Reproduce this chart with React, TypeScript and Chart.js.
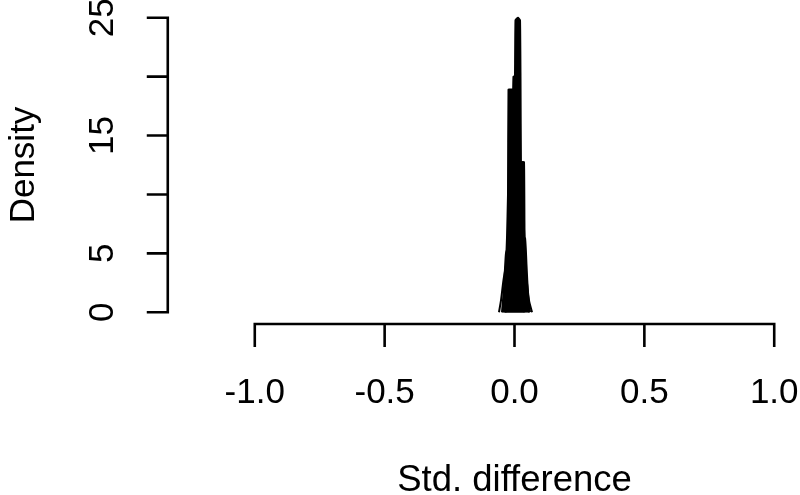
import React, { useEffect, useRef } from 'react';
import { Chart, registerables } from 'chart.js';

Chart.register(...registerables);

// Axis ticks
const xTicks = [-1.0, -0.5, 0.0, 0.5, 1.0];
const xTickLabels = ['-1.0', '-0.5', '0.0', '0.5', '1.0'];
const yTicks = [0, 5, 10, 15, 20, 25];
const yTickLabels = ['0', '5', '', '15', '', '25'];
const xTitle = 'Std. difference';
const yTitle = 'Density';

// Density curves (std. difference vs density)
const curveAx = [-0.0328, -0.0173, -0.0058, 0.0019, 0.0039, 0.0135, 0.0212, 0.0231, 0.025, 0.0366, 0.0559];
const curveAy = [0, 4, 10, 20, 24.8, 25, 24.8, 20, 12, 4, 0];

const curveBx = [-0.0366, -0.0212, -0.0096, -0.0058, -0.0039, 0.0019, 0.0058, 0.0173, 0.0405];
const curveBy = [0, 4, 12, 18, 20, 20, 14, 4, 0];

const curveCx = [-0.0443, -0.0347, -0.0289, -0.025, -0.0231, -0.0135, -0.0019, 0.0058, 0.0173, 0.0366];
const curveCy = [0, 3, 6.3, 10, 18.9, 18.9, 18.9, 10, 3, 0];

const curveDx = [-0.0366, -0.025, -0.0096, 0.0135, 0.027, 0.0366, 0.0385, 0.0443, 0.0559];
const curveDy = [0, 3, 8, 12.5, 12.75, 12.75, 7, 3, 0];

const curveEx = [-0.0482, -0.0405, -0.0328, -0.0096, 0.0212, 0.0405, 0.0462, 0.052, 0.0597];
const curveEy = [0, 2, 5, 6.3, 6.3, 6.3, 4, 1.5, 0];

// widest curve, its tails flare out at the base
const curveFx = [-0.0597, -0.052, -0.0405, -0.025, -0.0019, 0.0212, 0.0443, 0.0559, 0.0674];
const curveFy = [0, 1, 3, 4.5, 5, 4.5, 3, 1, 0];

const filledCurves = [
  [curveAx, curveAy],
  [curveBx, curveBy],
  [curveCx, curveCy],
  [curveDx, curveDy],
  [curveEx, curveEy],
];
const lineCurves = [[curveFx, curveFy]];

const FONT = '"Liberation Sans", Arial, Helvetica, sans-serif';
const TICK_FONT_SIZE = 35;
const TITLE_FONT_SIZE = 36.5;

const rAxesPlugin = {
  id: 'rAxes',
  afterDraw(chart: any) {
    const { ctx } = chart;
    const xs = chart.scales.x;
    const ys = chart.scales.y;
    ctx.save();
    ctx.strokeStyle = '#000';
    ctx.fillStyle = '#000';
    ctx.lineWidth = 2.6;
    ctx.lineCap = 'butt';

    // X axis (at bottom of plotting region)
    const axY = ys.getPixelForValue(-1);
    ctx.beginPath();
    ctx.moveTo(xs.getPixelForValue(xTicks[0]) - 1.3, axY);
    ctx.lineTo(xs.getPixelForValue(xTicks[xTicks.length - 1]) + 1.3, axY);
    xTicks.forEach((t) => {
      const px = xs.getPixelForValue(t);
      ctx.moveTo(px, axY);
      ctx.lineTo(px, axY + 23);
    });
    ctx.stroke();

    ctx.textAlign = 'center';
    ctx.textBaseline = 'alphabetic';
    ctx.font = `${TICK_FONT_SIZE}px ${FONT}`;
    xTicks.forEach((t, i) => {
      ctx.fillText(xTickLabels[i], xs.getPixelForValue(t), 403);
    });
    ctx.font = `${TITLE_FONT_SIZE}px ${FONT}`;
    ctx.fillText(xTitle, xs.getPixelForValue(0), 491);

    // Y axis (offset to the left)
    const axX = xs.getPixelForValue(-1.335);
    ctx.beginPath();
    ctx.moveTo(axX, ys.getPixelForValue(yTicks[0]) + 1.3);
    ctx.lineTo(axX, ys.getPixelForValue(yTicks[yTicks.length - 1]) - 1.3);
    yTicks.forEach((t) => {
      const py = ys.getPixelForValue(t);
      ctx.moveTo(axX, py);
      ctx.lineTo(axX - 21, py);
    });
    ctx.stroke();

    ctx.font = `${TICK_FONT_SIZE}px ${FONT}`;
    yTicks.forEach((t, i) => {
      if (!yTickLabels[i]) return;
      const py = ys.getPixelForValue(t);
      ctx.save();
      ctx.translate(113, py);
      ctx.rotate(-Math.PI / 2);
      ctx.fillText(yTickLabels[i], 0, 0);
      ctx.restore();
    });

    ctx.font = `${TICK_FONT_SIZE}px ${FONT}`;
    ctx.save();
    ctx.translate(34, (ys.getPixelForValue(0) + ys.getPixelForValue(25)) / 2);
    ctx.rotate(-Math.PI / 2);
    ctx.fillText(yTitle, 0, 0);
    ctx.restore();

    ctx.restore();
  },
};

export default function App() {
  const canvasRef = useRef<HTMLCanvasElement | null>(null);

  useEffect(() => {
    if (!canvasRef.current) return;
    const filled = filledCurves.map(([xs, ys]) => ({
      data: xs.map((x, i) => ({ x, y: ys[i] })),
      borderColor: '#000',
      backgroundColor: '#000',
      borderWidth: 2,
      pointRadius: 0,
      showLine: true,
      fill: 'origin' as const,
      tension: 0.1,
    }));
    const lines = lineCurves.map(([xs, ys]) => ({
      data: xs.map((x, i) => ({ x, y: ys[i] })),
      borderColor: '#000',
      backgroundColor: '#000',
      borderWidth: 2,
      pointRadius: 0,
      showLine: true,
      fill: false,
      tension: 0.3,
    }));
    const chart = new Chart(canvasRef.current, {
      type: 'scatter',
      data: { datasets: [...lines, ...filled] },
      options: {
        animation: false,
        responsive: false,
        devicePixelRatio: 1,
        events: [],
        layout: { padding: { left: 234, right: 5, top: 6, bottom: 171 } },
        plugins: {
          legend: { display: false },
          tooltip: { enabled: false },
          title: { display: false },
          filler: { propagate: false },
        },
        scales: {
          x: { type: 'linear', min: -1.08, max: 1.08, display: false },
          y: { type: 'linear', min: -1, max: 26, display: false },
        },
      },
      plugins: [rAxesPlugin],
    });
    return () => chart.destroy();
  }, []);

  return (
    <div style={{ position: 'absolute', left: 0, top: 0, width: 800, height: 495, background: '#fff' }}>
      <canvas ref={canvasRef} width={800} height={495} style={{ width: 800, height: 495 }} />
    </div>
  );
}
